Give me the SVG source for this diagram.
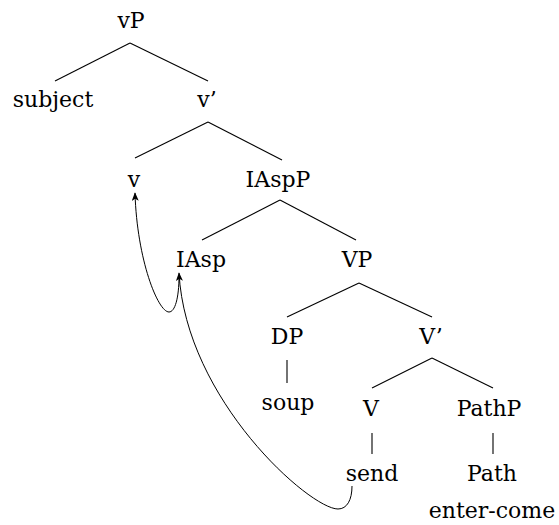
<svg xmlns="http://www.w3.org/2000/svg" width="559" height="525" viewBox="0 0 559 525">
<defs>
<style>
text{font-family:"DejaVu Serif","Liberation Serif",serif;font-size:22px;fill:#000;text-anchor:middle}
.e{stroke:#000;stroke-width:1.1;fill:none}
.m{stroke:#000;stroke-width:1;fill:none}
</style>
<marker id="ah" viewBox="0 0 10 8" refX="9" refY="4" markerWidth="9" markerHeight="7" markerUnits="userSpaceOnUse" orient="auto">
<path d="M0,0 L10,4 L0,8 L2.5,4 Z" fill="#000"/>
</marker>
</defs>
<rect width="559" height="525" fill="#fff"/>
<g id="connectors">
<line class="e" x1="130" y1="43" x2="55" y2="81"/>
<line class="e" x1="130" y1="43" x2="208" y2="81"/>
<line class="e" x1="208" y1="122" x2="135" y2="158"/>
<line class="e" x1="208" y1="122" x2="282" y2="160"/>
<line class="e" x1="280" y1="200" x2="202" y2="240"/>
<line class="e" x1="280" y1="200" x2="356" y2="240"/>
<line class="e" x1="359" y1="283" x2="287" y2="317"/>
<line class="e" x1="359" y1="283" x2="432" y2="317"/>
<line class="e" x1="287" y1="360" x2="287" y2="383"/>
<line class="e" x1="432" y1="358" x2="372" y2="388"/>
<line class="e" x1="432" y1="358" x2="493" y2="388"/>
<line class="e" x1="372" y1="433" x2="372" y2="454"/>
<line class="e" x1="493" y1="433" x2="493" y2="454"/>
<path class="m" d="M179,276 C179,298 175,312 169,312 C158,312 137,260 135,193" marker-end="url(#ah)"/>
<path class="m" d="M352,486 C352,500 347,509 338,509 C310,509 186,400 179,273" marker-end="url(#ah)"/>
</g>
<g id="vP"><text x="131" y="28">vP</text></g>
<g id="subject"><text x="53" y="107">subject</text></g>
<g id="vbar"><text x="207" y="107">v’</text></g>
<g id="v"><text x="134" y="187">v</text></g>
<g id="IAspP"><text x="278" y="187">IAspP</text></g>
<g id="IAsp"><text x="201" y="267">IAsp</text></g>
<g id="VP"><text x="357" y="267">VP</text></g>
<g id="DP"><text x="287" y="344">DP</text></g>
<g id="Vbar"><text x="431" y="344">V’</text></g>
<g id="soup"><text x="288" y="410">soup</text></g>
<g id="V"><text x="371" y="416">V</text></g>
<g id="PathP"><text x="489" y="416">PathP</text></g>
<g id="send"><text x="372" y="481">send</text></g>
<g id="Path"><text x="492" y="481">Path</text></g>
<g id="enter-come"><text x="492" y="518">enter-come</text></g>
</svg>
